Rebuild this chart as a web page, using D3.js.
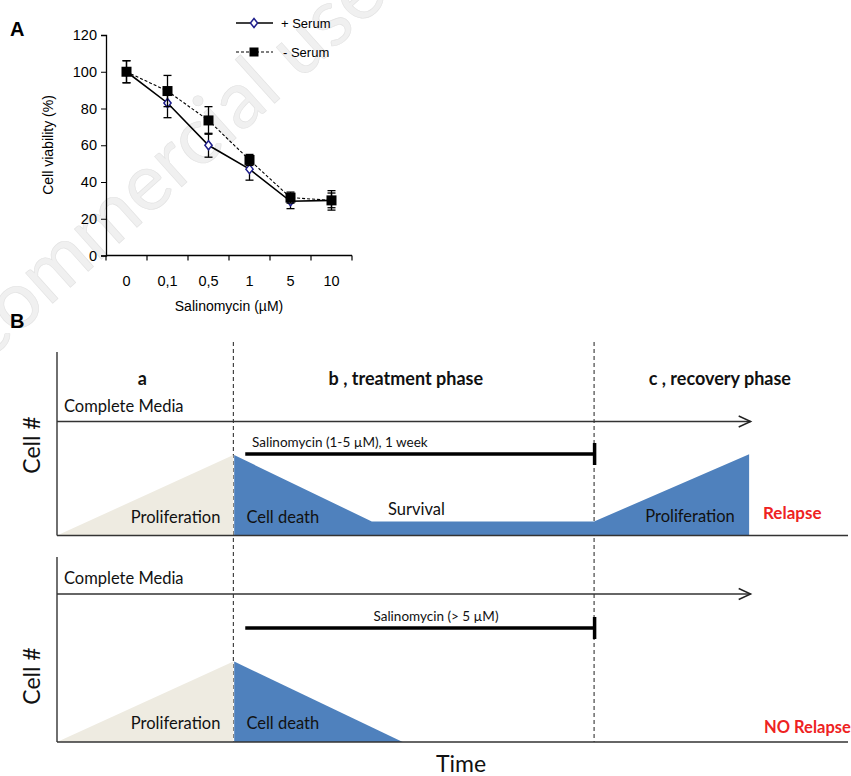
<!DOCTYPE html>
<html>
<head>
<meta charset="utf-8">
<script src="https://cdn.jsdelivr.net/npm/d3@7"></script>
<style>
  body { margin: 0; background: #fff; }
  svg { display: block; }
</style>
</head>
<body>
<svg id="fig"></svg>
<script>
// ---- panel A data ----
var doses = ["0", "0,1", "0,5", "1", "5", "10"];
var plusSerum = [100, 83, 60, 47, 29.5, 30];
var plusErr = [6, 8, 6.5, 6, 4, 4];
var minusSerum = [100, 89.5, 73.5, 52, 31.5, 30];
var minusErr = [6, 8.5, 7.5, 3, 3, 5.3];
var yTicks = [0, 20, 40, 60, 80, 100, 120];

// ---- panel B data (time 0-100, cell level 0-100) ----
var phaseBounds = [22.3, 67.9];
var phaseLabels = ["a", "b , treatment phase", "c , recovery phase"];
var phaseLabelX = [10.8, 44.1, 83.8];
var growthBefore = [[0, 0], [22.3, 43.7], [22.3, 0]];
var relapseShape = [[22.4, 43.7], [39.8, 7.6], [67.9, 7.6], [87.5, 44.2], [87.5, 0], [22.4, 0]];
var noRelapseShape = [[22.4, 43.7], [43.7, 0], [22.4, 0]];
var mediaEnd = 87.7;
var drugSpan = [23.8, 67.9];

var width = 851, height = 776;
var svg = d3.select("#fig").attr("width", width).attr("height", height);

// faint watermark
svg.append("text")
    .attr("transform", "translate(108,226) rotate(-42)")
    .attr("text-anchor", "middle")
    .attr("dominant-baseline", "middle")
    .style("font-family", "Lato, sans-serif")
    .style("font-size", "80px")
    .attr("fill", "#f0f0f0")
    .attr("stroke", "#e2e2e2")
    .attr("stroke-width", 0.6)
    .text("Non-commercial use");

// ================= Panel A =================
var arial = "'Liberation Sans', Arial, sans-serif";
var x = d3.scaleBand().domain(doses).range([106, 352]);
var y = d3.scaleLinear().domain([0, 120]).range([255.5, 35]);
var cx = d => x(d) + x.bandwidth() / 2;

svg.append("text").attr("x", 10).attr("y", 36)
    .style("font-family", arial).style("font-weight", "bold").style("font-size", "20px")
    .text("A");

var yAxis = svg.append("g").attr("transform", "translate(106,0)")
    .call(d3.axisLeft(y).tickValues(yTicks).tickSize(5).tickPadding(4));
yAxis.select(".domain").attr("stroke-width", 1.3);
yAxis.selectAll("text").style("font-family", arial).style("font-size", "14.5px").attr("fill", "#000");

var xAxis = svg.append("g").attr("transform", "translate(0,255.5)");
xAxis.append("line").attr("x1", 106).attr("x2", 352).attr("stroke", "#000").attr("stroke-width", 1.3);
var edges = doses.map(d => x(d)).concat([x.range()[1]]);
xAxis.selectAll(".tk").data(edges).enter().append("line")
    .attr("x1", d => d).attr("x2", d => d).attr("y1", 0).attr("y2", 5)
    .attr("stroke", "#000").attr("stroke-width", 1.2);
xAxis.selectAll(".lb").data(doses).enter().append("text")
    .attr("x", d => cx(d)).attr("y", 30)
    .attr("text-anchor", "middle")
    .style("font-family", arial).style("font-size", "14.5px")
    .text(d => d);

svg.append("text")
    .attr("transform", "translate(53,145) rotate(-90)")
    .attr("text-anchor", "middle")
    .style("font-family", arial).style("font-size", "14px")
    .text("Cell viability (%)");
svg.append("text").attr("x", 229).attr("y", 311)
    .attr("text-anchor", "middle")
    .style("font-family", arial).style("font-size", "14px")
    .text("Salinomycin (\u00b5M)");

var line = d3.line().x((v, i) => cx(doses[i])).y(v => y(v));
var diamond = "M0,-4.5L3.6,0L0,4.5L-3.6,0Z";

function errBars(vals, errs) {
  var g = svg.append("g").attr("stroke", "#000").attr("stroke-width", 1.3);
  vals.forEach(function(v, i) {
    var px = cx(doses[i]);
    g.append("line").attr("x1", px).attr("x2", px).attr("y1", y(v - errs[i])).attr("y2", y(v + errs[i]));
    [v - errs[i], v + errs[i]].forEach(function(e) {
      g.append("line").attr("x1", px - 4).attr("x2", px + 4).attr("y1", y(e)).attr("y2", y(e));
    });
  });
}

// + serum
svg.append("path").datum(plusSerum).attr("d", line)
    .attr("fill", "none").attr("stroke", "#000").attr("stroke-width", 1.6);
errBars(plusSerum, plusErr);
svg.selectAll(".dia").data(plusSerum).enter().append("path")
    .attr("d", diamond)
    .attr("transform", (v, i) => "translate(" + cx(doses[i]) + "," + y(v) + ")")
    .attr("fill", "#fff").attr("stroke", "#1f1f8c").attr("stroke-width", 1.5);

// - serum
svg.append("path").datum(minusSerum).attr("d", line)
    .attr("fill", "none").attr("stroke", "#000").attr("stroke-width", 1.1)
    .attr("stroke-dasharray", "3,2");
errBars(minusSerum, minusErr);
svg.selectAll(".sq").data(minusSerum).enter().append("rect")
    .attr("x", (v, i) => cx(doses[i]) - 5).attr("y", v => y(v) - 5)
    .attr("width", 10).attr("height", 10).attr("fill", "#000");

// legend
var leg = svg.append("g");
leg.append("line").attr("x1", 236).attr("x2", 273).attr("y1", 23).attr("y2", 23)
    .attr("stroke", "#000").attr("stroke-width", 1.6);
leg.append("path").attr("d", diamond).attr("transform", "translate(254,23)")
    .attr("fill", "#fff").attr("stroke", "#1f1f8c").attr("stroke-width", 1.5);
leg.append("text").attr("x", 281).attr("y", 28).style("font-family", arial).style("font-size", "13px").text("+ Serum");
leg.append("line").attr("x1", 236).attr("x2", 273).attr("y1", 52).attr("y2", 52)
    .attr("stroke", "#000").attr("stroke-width", 1.1).attr("stroke-dasharray", "3,2");
leg.append("rect").attr("x", 249.5).attr("y", 47.5).attr("width", 9).attr("height", 9).attr("fill", "#000");
leg.append("text").attr("x", 283).attr("y", 57).style("font-family", arial).style("font-size", "13px").text("- Serum");

// ================= Panel B =================
var lato = "Lato, 'Open Sans', sans-serif";
var tx = d3.scaleLinear().domain([0, 100]).range([57, 848]);

svg.append("text").attr("x", 10).attr("y", 328)
    .style("font-family", arial).style("font-weight", "bold").style("font-size", "20px")
    .text("B");

// dashed phase separators
svg.selectAll(".sep").data(phaseBounds).enter().append("line")
    .attr("x1", d => tx(d)).attr("x2", d => tx(d))
    .attr("y1", 342).attr("y2", 742)
    .attr("stroke", "#444").attr("stroke-width", 1.2).attr("stroke-dasharray", "4,3");

svg.selectAll(".ph").data(phaseLabels).enter().append("text")
    .attr("x", (d, i) => tx(phaseLabelX[i])).attr("y", 385)
    .attr("text-anchor", "middle")
    .style("font-family", lato).style("font-weight", "bold").style("font-size", "18px")
    .attr("fill", "#111")
    .text(d => d);

function diagram(top, base, my, by, shape, drugLabel, drugLabelX, drugLabelAnchor, outcome) {
  var cy = d3.scaleLinear().domain([0, 100]).range([base, base - 184]);
  var area = d3.line().x(p => tx(p[0])).y(p => cy(p[1]));
  var g = svg.append("g");

  g.append("path").datum(growthBefore).attr("d", area).attr("fill", "#eeebe1");
  g.append("path").datum(shape).attr("d", area).attr("fill", "#4f81bd");

  // axes
  g.append("line").attr("x1", tx(0)).attr("x2", tx(0)).attr("y1", top).attr("y2", base)
      .attr("stroke", "#333").attr("stroke-width", 1.4);
  g.append("line").attr("x1", tx(0)).attr("x2", tx(100)).attr("y1", base).attr("y2", base)
      .attr("stroke", "#333").attr("stroke-width", 1.4);

  // complete media arrow
  g.append("line").attr("x1", tx(0)).attr("x2", tx(mediaEnd)).attr("y1", my).attr("y2", my)
      .attr("stroke", "#333").attr("stroke-width", 1.4);
  g.append("path")
      .attr("d", "M" + (tx(mediaEnd) - 12) + "," + (my - 5.5) + "L" + tx(mediaEnd) + "," + my + "L" + (tx(mediaEnd) - 12) + "," + (my + 5.5))
      .attr("fill", "none").attr("stroke", "#222").attr("stroke-width", 1.4);
  g.append("text").attr("x", tx(0) + 7).attr("y", my - 10)
      .style("font-family", lato).style("font-size", "16.5px").attr("fill", "#111")
      .text("Complete Media");

  // drug bar
  g.append("line").attr("x1", tx(drugSpan[0])).attr("x2", tx(drugSpan[1])).attr("y1", by).attr("y2", by)
      .attr("stroke", "#000").attr("stroke-width", 3.5);
  g.append("line").attr("x1", tx(drugSpan[1]) + 0.5).attr("x2", tx(drugSpan[1]) + 0.5).attr("y1", by - 11).attr("y2", by + 11)
      .attr("stroke", "#000").attr("stroke-width", 3.5);
  g.append("text").attr("x", drugLabelX).attr("y", by - 7)
      .attr("text-anchor", drugLabelAnchor)
      .style("font-family", lato).style("font-size", "13.5px").attr("fill", "#111")
      .text(drugLabel);

  // cell # label
  g.append("text")
      .attr("transform", "translate(40," + outcome.cellY + ") rotate(-90)")
      .attr("text-anchor", "middle")
      .style("font-family", lato).style("font-size", "23px").attr("fill", "#111")
      .text("Cell #");

  // region labels
  var ly = base - 13;
  g.append("text").attr("x", tx(phaseBounds[0]) - 13).attr("y", ly).attr("text-anchor", "end")
      .style("font-family", lato).style("font-size", "16.5px").attr("fill", "#111").text("Proliferation");
  g.append("text").attr("x", tx(phaseBounds[0]) + 13).attr("y", ly)
      .style("font-family", lato).style("font-size", "16.5px").attr("fill", "#111").text("Cell death");

  g.append("text").attr("x", outcome.x).attr("y", base - outcome.dy)
      .style("font-family", lato).style("font-weight", "bold").style("font-size", outcome.size)
      .attr("fill", "#ee2222").text(outcome.text);
  return g;
}

var g1 = diagram(352, 535.5, 421.5, 454, relapseShape, "Salinomycin (1-5 \u00b5M), 1 week", 252, "start",
                 {x: 763, dy: 17, text: "Relapse", size: "17px", cellY: 445});
g1.append("text").attr("x", 388).attr("y", 515)
    .style("font-family", lato).style("font-size", "16.5px").attr("fill", "#111").text("Survival");
g1.append("text").attr("x", 690).attr("y", 522).attr("text-anchor", "middle")
    .style("font-family", lato).style("font-size", "16.5px").attr("fill", "#111").text("Proliferation");

diagram(557, 742, 594, 628, noRelapseShape, "Salinomycin (> 5 \u00b5M)", 436, "middle",
        {x: 764, dy: 9, text: "NO Relapse", size: "16.5px", cellY: 676});

svg.append("text").attr("x", 461).attr("y", 772).attr("text-anchor", "middle")
    .style("font-family", lato).style("font-size", "23px").attr("fill", "#111").text("Time");
</script>
</body>
</html>
